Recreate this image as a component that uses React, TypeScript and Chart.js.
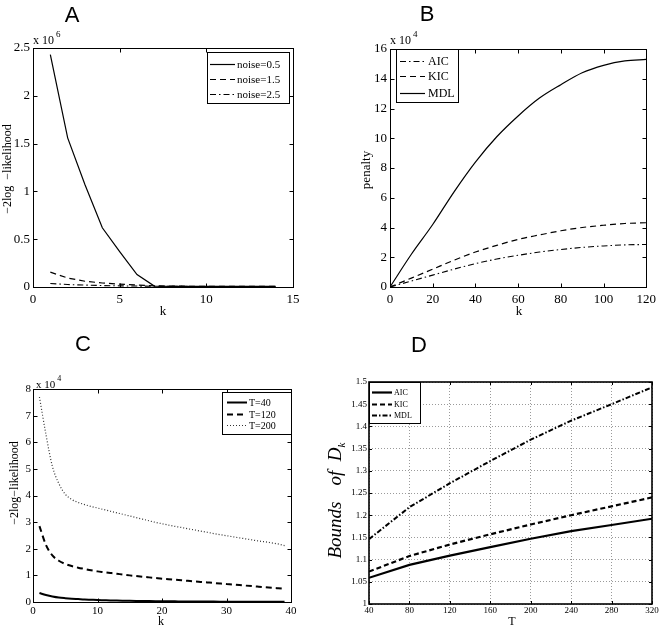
import React, { useEffect, useRef } from 'react';
import { Chart, registerables } from 'chart.js';

Chart.register(...registerables);

// ---------------- Panel A data (values in units of 10^6) ----------------
const A_K = [1, 2, 3, 4, 5, 6, 7, 8, 9, 10, 11, 12, 13, 14];
const A_NOISE_05 = [2.43, 1.56, 1.07, 0.62, 0.37, 0.13, 0.01, 0.006, 0.006, 0.006, 0.006, 0.006, 0.006, 0.006];
const A_NOISE_15 = [0.155, 0.094, 0.06, 0.042, 0.03, 0.02, 0.012, 0.009, 0.008, 0.008, 0.007, 0.007, 0.007, 0.007];
const A_NOISE_25 = [0.036, 0.026, 0.02, 0.015, 0.012, 0.01, 0.008, 0.007, 0.006, 0.006, 0.006, 0.006, 0.006, 0.006];
const A_LABELS = ['noise=0.5', 'noise=1.5', 'noise=2.5'];

// ---------------- Panel B data (values in units of 10^4) ----------------
const B_K = [0, 10, 20, 30, 40, 50, 60, 70, 80, 90, 100, 110, 120];
const B_AIC = [0, 0.4, 0.8, 1.2, 1.57, 1.88, 2.13, 2.35, 2.52, 2.66, 2.76, 2.83, 2.86];
const B_KIC = [0, 0.6, 1.2, 1.8, 2.35, 2.8, 3.2, 3.5, 3.78, 4.0, 4.15, 4.27, 4.32];
const B_MDL = [0, 2.2, 4.2, 6.4, 8.4, 10.1, 11.5, 12.7, 13.6, 14.4, 14.9, 15.2, 15.3];
const B_LABELS = ['AIC', 'KIC', 'MDL'];

// ---------------- Panel C data (values in units of 10^4) ----------------
const C_K = [1, 2, 3, 4, 5, 6, 7, 8, 9, 10, 11, 12, 13, 14, 15, 16, 17, 18, 19, 20,
  21, 22, 23, 24, 25, 26, 27, 28, 29, 30, 31, 32, 33, 34, 35, 36, 37, 38, 39];
const C_T40 = [0.34, 0.26, 0.21, 0.17, 0.145, 0.125, 0.11, 0.095, 0.085, 0.075,
  0.068, 0.061, 0.055, 0.05, 0.045, 0.041, 0.037, 0.034, 0.031, 0.028,
  0.026, 0.024, 0.022, 0.02, 0.018, 0.017, 0.016, 0.015, 0.014, 0.013,
  0.012, 0.011, 0.01, 0.009, 0.008, 0.008, 0.007, 0.007, 0.006];
const C_T120 = [2.85, 2.15, 1.75, 1.55, 1.43, 1.35, 1.29, 1.24, 1.19, 1.15,
  1.12, 1.09, 1.06, 1.03, 1.0, 0.975, 0.95, 0.925, 0.9, 0.875,
  0.855, 0.835, 0.815, 0.795, 0.775, 0.755, 0.735, 0.715, 0.695, 0.675,
  0.655, 0.635, 0.615, 0.595, 0.575, 0.555, 0.535, 0.515, 0.495];
const C_T200 = [7.7, 6.3, 5.1, 4.45, 4.05, 3.85, 3.74, 3.66, 3.59, 3.53,
  3.47, 3.41, 3.35, 3.29, 3.23, 3.17, 3.11, 3.05, 2.99, 2.94,
  2.89, 2.84, 2.8, 2.75, 2.71, 2.66, 2.62, 2.57, 2.53, 2.49,
  2.45, 2.41, 2.37, 2.33, 2.29, 2.26, 2.22, 2.18, 2.12];
const C_LABELS = ['T=40', 'T=120', 'T=200'];

// ---------------- Panel D data ----------------
const D_T = [40, 80, 120, 160, 200, 240, 280, 320];
const D_AIC = [1.059, 1.088, 1.109, 1.128, 1.147, 1.164, 1.178, 1.192];
const D_KIC = [1.073, 1.108, 1.134, 1.157, 1.179, 1.2, 1.22, 1.24];
const D_MDL = [1.146, 1.218, 1.272, 1.322, 1.37, 1.413, 1.45, 1.488];
const D_LABELS = ['AIC', 'KIC', 'MDL'];

const SERIF = '"Liberation Serif", "Times New Roman", serif';
const SANS = '"Liberation Sans", Arial, sans-serif';

type Box = { x: number; y: number; w: number; h: number };
type Area = { l: number; t: number; r: number; b: number };
type SeriesSpec = { label: string; values: number[]; dash: number[]; width: number; color: string };
type PanelSpec = {
  box: Box;
  area: Area;
  xs: number[];
  series: SeriesSpec[];
  smooth: boolean;
  xRange: [number, number, number];
  yRange: [number, number, number];
  tickSize: number;
  xPad: number;
  yPad: number;
  grid: boolean;
  frameWidth: number;
  tickLen: number;
  letter: { text: string; x: number; y: number };
  xTitle: { text: string; x: number; y: number; font: string };
  yTitle: { parts: { text: string; y: number; sub?: string }[]; x: number; font: string; subFont?: string };
  exponent?: { x: number; y: number; sup: string; font: string; supFont: string };
  legend: { box: Area; rows: number[]; lineX: [number, number]; textX: number; font: string; lineWidthScale: number };
};

const fmt = (v: number) => String(Number(v.toFixed(2)));

const PANELS: PanelSpec[] = [
  {
    box: { x: 0, y: 0, w: 330, h: 318 },
    area: { l: 33, t: 48, r: 293, b: 287 },
    xs: A_K,
    series: [
      { label: A_LABELS[0], values: A_NOISE_05, dash: [], width: 1.2, color: '#000' },
      { label: A_LABELS[1], values: A_NOISE_15, dash: [6, 4], width: 1.2, color: '#000' },
      { label: A_LABELS[2], values: A_NOISE_25, dash: [6, 3, 1.5, 3], width: 1.1, color: '#000' },
    ],
    smooth: false,
    xRange: [0, 15, 5],
    yRange: [0, 2.5, 0.5],
    tickSize: 13,
    xPad: 5,
    yPad: 3,
    grid: false,
    frameWidth: 1,
    tickLen: 4,
    letter: { text: 'A', x: 72, y: 16 },
    xTitle: { text: 'k', x: 163, y: 312, font: `13px ${SERIF}` },
    yTitle: { parts: [{ text: '\u22122log  \u2212likelihood', y: 169 }], x: 8, font: `12px ${SERIF}` },
    exponent: { x: 33, y: 41, sup: '6', font: `12px ${SERIF}`, supFont: `9px ${SERIF}` },
    legend: { box: { l: 207, t: 52, r: 289, b: 103 }, rows: [64, 79, 94], lineX: [210, 235], textX: 237, font: `11px ${SERIF}`, lineWidthScale: 1 },
  },
  {
    box: { x: 330, y: 0, w: 331, h: 318 },
    area: { l: 390, t: 49, r: 649, b: 287 },
    xs: B_K,
    series: [
      { label: B_LABELS[0], values: B_AIC, dash: [6, 3, 1.5, 3], width: 1.1, color: '#000' },
      { label: B_LABELS[1], values: B_KIC, dash: [6, 4], width: 1.2, color: '#000' },
      { label: B_LABELS[2], values: B_MDL, dash: [], width: 1.2, color: '#000' },
    ],
    smooth: true,
    xRange: [0, 120, 20],
    yRange: [0, 16, 2],
    tickSize: 13,
    xPad: 5,
    yPad: 3,
    grid: false,
    frameWidth: 1,
    tickLen: 4,
    letter: { text: 'B', x: 427, y: 15 },
    xTitle: { text: 'k', x: 519, y: 312, font: `13px ${SERIF}` },
    yTitle: { parts: [{ text: 'penalty', y: 170 }], x: 367, font: `13px ${SERIF}` },
    exponent: { x: 390, y: 41, sup: '4', font: `12px ${SERIF}`, supFont: `9px ${SERIF}` },
    legend: { box: { l: 396, t: 49, r: 458, b: 102 }, rows: [61, 76, 93], lineX: [400, 425], textX: 428, font: `12px ${SERIF}`, lineWidthScale: 1 },
  },
  {
    box: { x: 0, y: 318, w: 326, h: 313 },
    area: { l: 33, t: 389, r: 291, b: 602 },
    xs: C_K,
    series: [
      { label: C_LABELS[0], values: C_T40, dash: [], width: 2, color: '#000' },
      { label: C_LABELS[1], values: C_T120, dash: [6, 4], width: 2, color: '#000' },
      { label: C_LABELS[2], values: C_T200, dash: [1, 2], width: 1.2, color: '#333' },
    ],
    smooth: true,
    xRange: [0, 40, 10],
    yRange: [0, 8, 1],
    tickSize: 11,
    xPad: 3,
    yPad: 2,
    grid: false,
    frameWidth: 1,
    tickLen: 4,
    letter: { text: 'C', x: 83, y: 345 },
    xTitle: { text: 'k', x: 161, y: 622, font: `12px ${SERIF}` },
    yTitle: { parts: [{ text: '\u22122log\u2212likelihood', y: 483 }], x: 15, font: `12px ${SERIF}` },
    exponent: { x: 36, y: 385, sup: '4', font: `11px ${SERIF}`, supFont: `8px ${SERIF}` },
    legend: { box: { l: 222, t: 392, r: 291, b: 434 }, rows: [402, 414, 425], lineX: [227, 247], textX: 249, font: `10px ${SERIF}`, lineWidthScale: 1 },
  },
  {
    box: { x: 326, y: 318, w: 335, h: 313 },
    area: { l: 369, t: 382, r: 652, b: 604 },
    xs: D_T,
    series: [
      { label: D_LABELS[0], values: D_AIC, dash: [], width: 2.2, color: '#000' },
      { label: D_LABELS[1], values: D_KIC, dash: [5, 3], width: 2.2, color: '#000' },
      { label: D_LABELS[2], values: D_MDL, dash: [5, 2, 1.5, 2], width: 2, color: '#000' },
    ],
    smooth: false,
    xRange: [40, 320, 40],
    yRange: [1, 1.5, 0.05],
    tickSize: 9,
    xPad: 1,
    yPad: 2,
    grid: true,
    frameWidth: 1.6,
    tickLen: 3,
    letter: { text: 'D', x: 419, y: 346 },
    xTitle: { text: 'T', x: 512, y: 622, font: `12px ${SERIF}` },
    yTitle: {
      parts: [
        { text: 'Bounds', y: 530 },
        { text: 'of', y: 478 },
        { text: 'D', y: 452, sub: 'k' },
      ],
      x: 336,
      font: `italic 19px ${SERIF}`,
      subFont: `italic 11px ${SERIF}`,
    },
    legend: { box: { l: 369, t: 382, r: 420, b: 423 }, rows: [392, 404, 415], lineX: [372, 392], textX: 394, font: `8px ${SERIF}`, lineWidthScale: 1 },
  },
];

const decorPlugin = {
  id: 'decor',
  afterDraw(chart: any, _args: any, opts: any) {
    const spec: PanelSpec = opts.spec;
    if (!spec) return;
    const ctx: CanvasRenderingContext2D = chart.ctx;
    const { left, right, top, bottom } = chart.chartArea;
    const xs = chart.scales.x;
    const ys = chart.scales.y;
    ctx.save();
    ctx.setLineDash([]);
    ctx.strokeStyle = '#000';
    // frame
    const off = spec.frameWidth % 2 === 1 ? 0.5 : 0;
    const L = Math.round(left) + off, R = Math.round(right) + off;
    const T = Math.round(top) + off, B = Math.round(bottom) + off;
    ctx.lineWidth = spec.frameWidth;
    ctx.strokeRect(L, T, R - L, B - T);
    // inward ticks on all four sides
    ctx.lineWidth = 1;
    ctx.beginPath();
    xs.ticks.forEach((t: any) => {
      const p = Math.round(xs.getPixelForValue(t.value)) + 0.5;
      ctx.moveTo(p, B); ctx.lineTo(p, B - spec.tickLen);
      ctx.moveTo(p, T); ctx.lineTo(p, T + spec.tickLen);
    });
    ys.ticks.forEach((t: any) => {
      const p = Math.round(ys.getPixelForValue(t.value)) + 0.5;
      ctx.moveTo(L, p); ctx.lineTo(L + spec.tickLen, p);
      ctx.moveTo(R, p); ctx.lineTo(R - spec.tickLen, p);
    });
    ctx.stroke();

    // switch to page coordinates
    ctx.translate(-spec.box.x, -spec.box.y);

    // legend
    const lg = spec.legend;
    ctx.fillStyle = '#fff';
    ctx.fillRect(lg.box.l, lg.box.t, lg.box.r - lg.box.l, lg.box.b - lg.box.t);
    ctx.lineWidth = 1;
    ctx.strokeStyle = '#000';
    ctx.strokeRect(lg.box.l + 0.5, lg.box.t + 0.5, lg.box.r - lg.box.l, lg.box.b - lg.box.t);
    chart.data.datasets.forEach((ds: any, i: number) => {
      const y = lg.rows[i];
      ctx.beginPath();
      ctx.setLineDash(ds.borderDash || []);
      ctx.lineWidth = ds.borderWidth * lg.lineWidthScale;
      ctx.strokeStyle = ds.borderColor;
      ctx.moveTo(lg.lineX[0], y + 0.5);
      ctx.lineTo(lg.lineX[1], y + 0.5);
      ctx.stroke();
      ctx.setLineDash([]);
      ctx.fillStyle = '#000';
      ctx.font = lg.font;
      ctx.textAlign = 'left';
      ctx.textBaseline = 'middle';
      ctx.fillText(ds.label, lg.textX, y + 1);
    });

    ctx.fillStyle = '#000';
    // panel letter
    ctx.font = `22px ${SANS}`;
    ctx.textAlign = 'center';
    ctx.textBaseline = 'middle';
    ctx.fillText(spec.letter.text, spec.letter.x, spec.letter.y);

    // x title
    ctx.font = spec.xTitle.font;
    ctx.fillText(spec.xTitle.text, spec.xTitle.x, spec.xTitle.y);

    // y title (rotated)
    const yt = spec.yTitle;
    yt.parts.forEach((part) => {
      ctx.save();
      ctx.translate(yt.x, part.y);
      ctx.rotate(-Math.PI / 2);
      ctx.font = yt.font;
      ctx.textBaseline = 'middle';
      if (part.sub) {
        const w = ctx.measureText(part.text).width;
        ctx.font = yt.subFont || yt.font;
        const ws = ctx.measureText(part.sub).width;
        const x0 = -(w + ws) / 2;
        ctx.font = yt.font;
        ctx.textAlign = 'left';
        ctx.fillText(part.text, x0, 0);
        ctx.font = yt.subFont || yt.font;
        ctx.fillText(part.sub, x0 + w, 6);
      } else {
        ctx.textAlign = 'center';
        ctx.fillText(part.text, 0, 0);
      }
      ctx.restore();
    });

    // exponent label
    if (spec.exponent) {
      const ex = spec.exponent;
      ctx.font = ex.font;
      ctx.textAlign = 'left';
      ctx.textBaseline = 'middle';
      const base = 'x 10';
      ctx.fillText(base, ex.x, ex.y);
      const w = ctx.measureText(base).width;
      ctx.font = ex.supFont;
      ctx.fillText(ex.sup, ex.x + w + 2, ex.y - 6);
    }
    ctx.restore();
  },
};

function makeConfig(spec: PanelSpec): any {
  const { box, area } = spec;
  const tickFont = { family: SERIF, size: spec.tickSize };
  return {
    type: 'line',
    data: {
      datasets: spec.series.map((s) => ({
        label: s.label,
        data: spec.xs.map((x, i) => ({ x, y: s.values[i] })),
        borderColor: s.color,
        borderWidth: s.width,
        borderDash: s.dash,
        pointRadius: 0,
        fill: false,
        tension: 0,
        cubicInterpolationMode: spec.smooth ? 'monotone' : 'default',
      })),
    },
    options: {
      animation: false,
      responsive: false,
      devicePixelRatio: 1,
      events: [],
      layout: {
        padding: { left: 0, top: area.t - box.y, right: box.x + box.w - area.r, bottom: 0 },
      },
      plugins: {
        legend: { display: false },
        tooltip: { enabled: false },
        decor: { spec },
      },
      scales: {
        x: {
          type: 'linear',
          min: spec.xRange[0],
          max: spec.xRange[1],
          ticks: {
            stepSize: spec.xRange[2],
            font: tickFont,
            color: '#000',
            padding: spec.xPad,
            maxRotation: 0,
            autoSkip: false,
            callback: (v: number) => fmt(v),
          },
          grid: {
            display: spec.grid,
            drawTicks: false,
            color: '#9a9a9a',
            lineWidth: 1,
          },
          border: { display: false, dash: spec.grid ? [1, 2] : [] },
          afterFit: (s: any) => {
            s.height = box.y + box.h - area.b;
          },
        },
        y: {
          type: 'linear',
          min: spec.yRange[0],
          max: spec.yRange[1],
          ticks: {
            stepSize: spec.yRange[2],
            font: tickFont,
            color: '#000',
            padding: spec.yPad,
            autoSkip: false,
            callback: (v: number) => fmt(v),
          },
          grid: {
            display: spec.grid,
            drawTicks: false,
            color: '#9a9a9a',
            lineWidth: 1,
          },
          border: { display: false, dash: spec.grid ? [1, 2] : [] },
          afterFit: (s: any) => {
            s.width = area.l - box.x;
          },
        },
      },
    },
    plugins: [decorPlugin],
  };
}

function Panel({ spec }: { spec: PanelSpec }) {
  const ref = useRef<HTMLCanvasElement>(null);
  useEffect(() => {
    if (!ref.current) return;
    const chart = new Chart(ref.current, makeConfig(spec));
    return () => chart.destroy();
  }, [spec]);
  return (
    <canvas
      ref={ref}
      width={spec.box.w}
      height={spec.box.h}
      style={{ position: 'absolute', left: spec.box.x, top: spec.box.y, width: spec.box.w, height: spec.box.h }}
    />
  );
}

export default function App() {
  return (
    <div style={{ position: 'absolute', left: 0, top: 0, width: 661, height: 631, background: '#fff', overflow: 'hidden' }}>
      {PANELS.map((p, i) => (
        <Panel key={i} spec={p} />
      ))}
    </div>
  );
}
